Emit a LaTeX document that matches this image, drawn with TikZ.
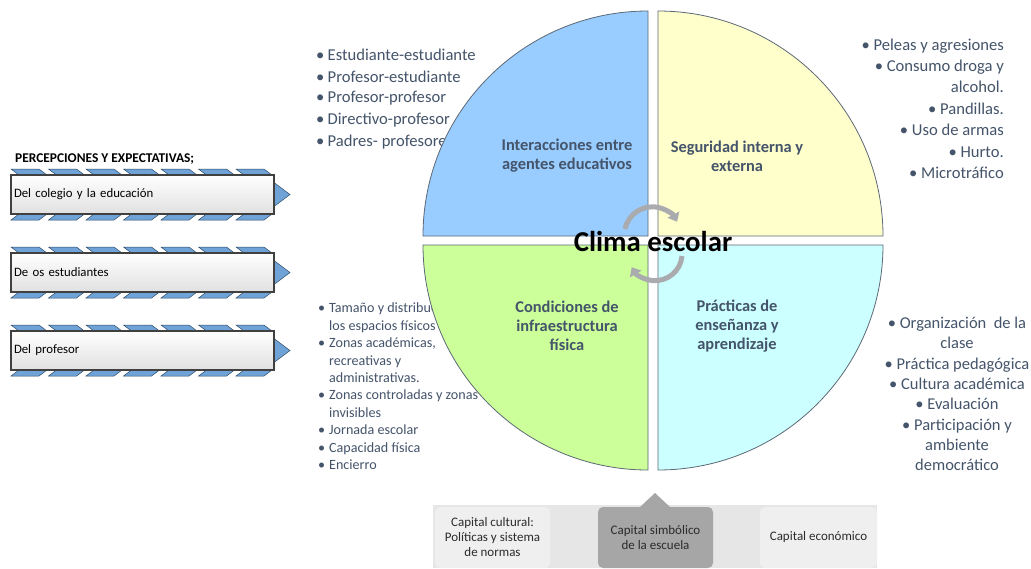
\documentclass[tikz,border=0pt]{standalone}
\usepackage{fontspec}
\setmainfont{Carlito}
\usetikzlibrary{arrows.meta}
\definecolor{textcol}{HTML}{44546A}
\definecolor{quadcol1}{HTML}{99CCFF}
\definecolor{quadcol2}{HTML}{FFFFCC}
\definecolor{quadcol3}{HTML}{CCFF99}
\definecolor{quadcol4}{HTML}{CCFFFF}
\definecolor{edgecol}{HTML}{5C6875}
\definecolor{stripecol}{HTML}{6FA3D8}
\definecolor{stripedge}{HTML}{2E4A66}
\definecolor{panelcol}{HTML}{E6E6E6}
\definecolor{capcol}{HTML}{EFEFEF}
\definecolor{capdark}{HTML}{A6A6A6}
\definecolor{cyclecol}{HTML}{A9ABAE}
\definecolor{captext}{HTML}{2B2B2B}

\begin{document}
\begin{tikzpicture}[x=1pt,y=1pt,
  item/.style={text=textcol,inner sep=0pt,font=\fontsize{16.6}{21.4}\selectfont},
  smallitem/.style={text=textcol,inner sep=0pt,align=left,font=\fontsize{14.1}{17.4}\selectfont},
  quadlabel/.style={text=textcol,align=center,font=\bfseries\fontsize{16.4}{19}\selectfont},
  quad/.style={draw=edgecol,line width=0.8pt},
  stripe/.style={fill=stripecol,draw=stripedge,line width=0.5pt},
  percbox/.style={draw=black!75,line width=1.6pt,top color=white,bottom color=black!12,
    minimum height=39pt,text width=257pt,inner xsep=3pt,align=left,
    font=\fontsize{12.8}{14}\selectfont},
  cycle/.style={draw=cyclecol,line width=5pt,-{Triangle[width=13pt,length=8pt]}},
  capbox/.style={rounded corners=5pt,minimum height=61pt,align=center,text=captext,
    font=\fontsize{13}{15}\selectfont},
]
\useasboundingbox (0,0) rectangle (1031,-568);
\fill[white] (0,0) rectangle (1031,-568);

% listas
\foreach \txt [count=\i] in {Estudiante-estudiante,Profesor-estudiante,Profesor-profesor,Directivo-profesor,Padres- profesores}
  \node[item,anchor=west] (inter\i) at (316,{-55-21.7*(\i-1)}) {\makebox[11.5pt][l]{\textbullet}\txt};

\node[item,anchor=east,align=right] (seglist) at (1004,-108.5) {\textbullet~Peleas y agresiones\\
  \textbullet~Consumo droga y\\alcohol.\\\textbullet~Pandillas.\\\textbullet~Uso de armas\\
  \textbullet~Hurto.\\\textbullet~Microtráfico};

\node[smallitem,anchor=north west] (infralist) at (318,-303) {%
  \makebox[11pt][l]{\textbullet}Tamaño y distribución de\\\hspace*{11pt}los espacios físicos\\
  \makebox[11pt][l]{\textbullet}Zonas académicas,\\\hspace*{11pt}recreativas y\\\hspace*{11pt}administrativas.\\
  \makebox[11pt][l]{\textbullet}Zonas controladas y zonas\\\hspace*{11pt}invisibles\\
  \makebox[11pt][l]{\textbullet}Jornada escolar\\\makebox[11pt][l]{\textbullet}Capacidad física\\
  \makebox[11pt][l]{\textbullet}Encierro};

\node[item,align=center,font=\fontsize{16.5}{20.3}\selectfont] (praclist) at (957,-394) {%
  \textbullet~Organización~ de la\\clase\\\textbullet~Práctica pedagógica\\\textbullet~Cultura académica\\
  \textbullet~Evaluación\\\textbullet~Participación y\\ambiente\\democrático};

% circulo
\filldraw[quad,fill=quadcol1] (648,-236) -- (648,-11) arc[start angle=90,end angle=180,radius=225] -- cycle;
\filldraw[quad,fill=quadcol2] (658,-236) -- (658,-11) arc[start angle=90,end angle=0,radius=225] -- cycle;
\filldraw[quad,fill=quadcol3] (648,-245) -- (423,-245) arc[start angle=180,end angle=270,radius=225] -- cycle;
\filldraw[quad,fill=quadcol4] (658,-245) -- (658,-470) arc[start angle=270,end angle=360,radius=225] -- cycle;

\node[quadlabel] (interlabel) at (567,-156) {Interacciones entre\\agentes educativos};
\node[quadlabel] (seglabel) at (737,-156) {Seguridad interna y\\externa};
\node[quadlabel] (infralabel) at (567,-326) {Condiciones de\\infraestructura\\física};
\node[quadlabel] (praclabel) at (737,-326) {Prácticas de\\enseñanza y\\aprendizaje};

\draw[cycle] (625,-229) arc[start angle=168,end angle=28,radius=28];
\draw[cycle] (682,-256) arc[start angle=-5,end angle=-150,radius=27];
\node[font=\bfseries\fontsize{28.8}{32}\selectfont] (clima) at (653,-241) {Clima escolar};

% percepciones
\node[anchor=west,inner sep=0pt,font=\bfseries\fontsize{13.4}{15}\selectfont] (percs) at (15,-159) {PERCEPCIONES Y EXPECTATIVAS;};
\foreach \name [count=\i] in {Del colegio y la educación,De os estudiantes,Del profesor}{
  \pgfmathsetmacro\yc{-194.5-78*(\i-1)}
  \foreach \k in {0,...,6}{
    \filldraw[stripe] (11+37.5*\k,\yc+25.5) -- ++(28,0) -- ++(8,-6) -- ++(-28,0) -- cycle;
    \filldraw[stripe] (19+37.5*\k,\yc-19.5) -- ++(28,0) -- ++(-8,-6) -- ++(-28,0) -- cycle;
  }
  \filldraw[stripe] (274,\yc+12) -- (290,\yc) -- (274,\yc-12) -- cycle;
  \node[percbox] (perc\i) at (142.5,\yc) {\name};
}

% capitales
\fill[panelcol] (433,-505) rectangle (877,-568);
\fill[capdark] (640,-507) -- (655,-493) -- (670,-507) -- cycle;
\node[capbox,fill=capcol,minimum width=115pt] (cultural) at (492.5,-537.5) {Capital cultural:\\Políticas y sistema\\de normas};
\node[capbox,fill=capdark,minimum width=115pt] (simbolico) at (655.5,-537.5) {Capital simbólico\\de la escuela};
\node[capbox,fill=capcol,minimum width=117pt] (economico) at (818.5,-537.5) {Capital económico};
\end{tikzpicture}
\end{document}
